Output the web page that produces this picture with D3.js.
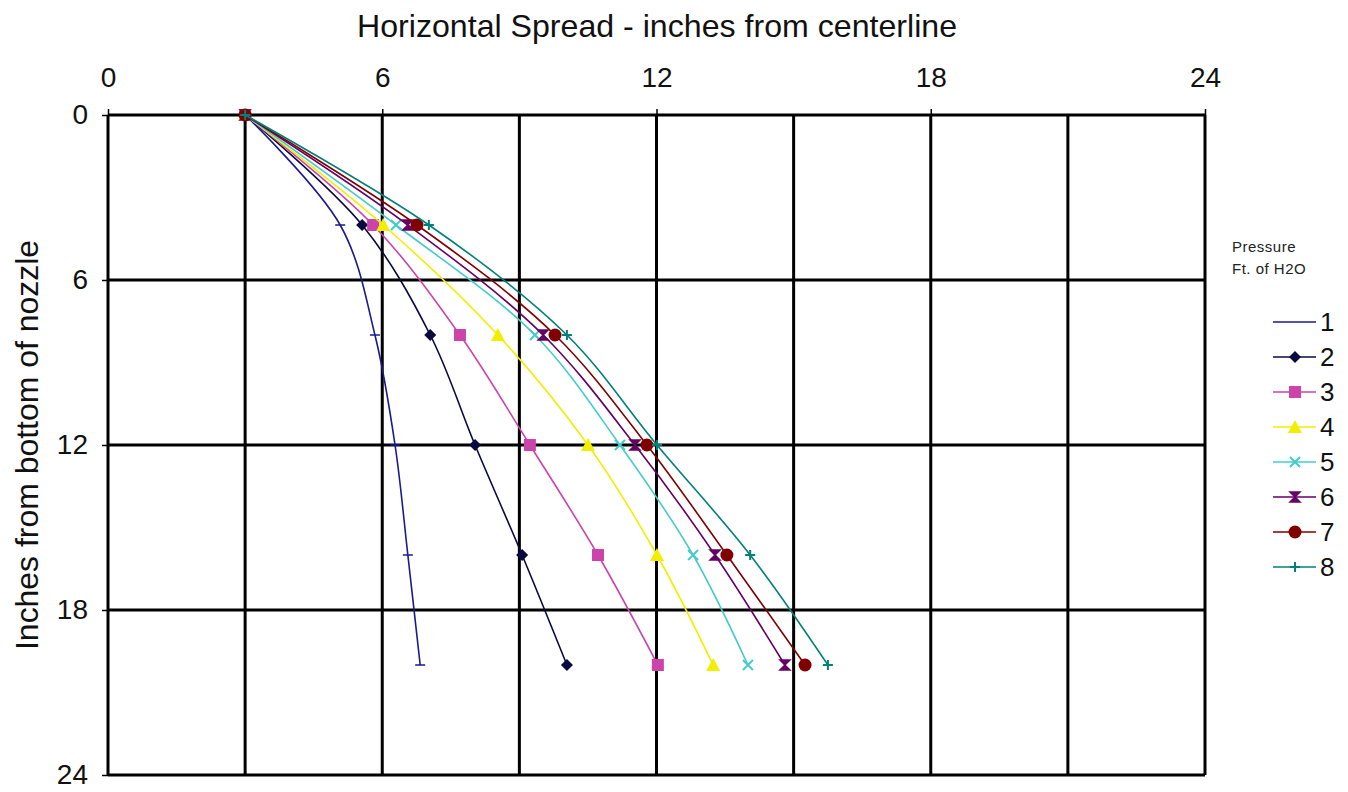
<!DOCTYPE html>
<html><head><meta charset="utf-8">
<script src="https://cdn.jsdelivr.net/npm/d3@7"></script>
<style>body{margin:0;background:#fff;}svg{display:block;font-family:"Liberation Sans",Arial,sans-serif;}
.narrow{font-family:"Liberation Sans Narrow","Arial Narrow","Liberation Sans",Arial,sans-serif;}</style>
</head><body>
<svg id="chart" width="1348" height="792"></svg>
<script>
// Data
const depths = [0, 4, 8, 12, 16, 20];           // inches from bottom of nozzle
const seriesNames = ["1","2","3","4","5","6","7","8"];
const s1 = [3, 5.08, 5.84, 6.28, 6.56, 6.83];
const s2 = [3, 5.56, 7.05, 8.03, 9.06, 10.04];
const s3 = [3, 5.80, 7.70, 9.23, 10.72, 12.03];
const s4 = [3, 6.02, 8.53, 10.50, 12.01, 13.24];
const s5 = [3, 6.30, 9.34, 11.20, 12.80, 14.00];
const s6 = [3, 6.56, 9.52, 11.53, 13.28, 14.81];
const s7 = [3, 6.76, 9.78, 11.79, 13.54, 15.25];
const s8 = [3, 7.02, 10.04, 12.01, 14.05, 15.75];
const spreads = [s1, s2, s3, s4, s5, s6, s7, s8];
const xTicks = [0, 6, 12, 18, 24];
const yTicks = [0, 6, 12, 18, 24];
const xGrid = [3, 6, 9, 12, 15, 18, 21, 24];
const colors = ["#1a1a8c","#0a0a40","#cc44aa","#f2ee00","#44cccc","#660066","#800000","#00807a"];
const markers = ["dash","diamond","square","triangle","x","hourglass","circle","plus"];

const svg = d3.select("#chart");
const x = d3.scaleLinear().domain([0, 24]).range([108, 1205]);
const y = d3.scaleLinear().domain([0, 24]).range([115, 775]);

// grid
svg.append("g").selectAll("line").data(xGrid).join("line")
  .attr("x1", d => x(d)).attr("x2", d => x(d)).attr("y1", y(0)).attr("y2", y(24))
  .attr("stroke", "#000").attr("stroke-width", 3);
svg.append("g").selectAll("line").data(yTicks).join("line")
  .attr("x1", x(0)).attr("x2", x(24)).attr("y1", d => y(d)).attr("y2", d => y(d))
  .attr("stroke", "#000").attr("stroke-width", 3);
svg.append("line").attr("x1", x(0)).attr("x2", x(0)).attr("y1", y(0)).attr("y2", y(24))
  .attr("stroke", "#000").attr("stroke-width", 3);

// axes
const xAxis = d3.axisTop(x).tickValues(xTicks).tickSize(6).tickPadding(22);
const gx = svg.append("g").attr("transform", `translate(0,${y(0)})`).call(xAxis);
gx.select(".domain").remove();
gx.selectAll("line").attr("stroke", "#000").attr("stroke-width", 1.5);
gx.selectAll("text").attr("class", "narrow").attr("font-size", 28).attr("fill", "#111");

const yAxis = d3.axisLeft(y).tickValues(yTicks).tickSize(6).tickPadding(14);
const gy = svg.append("g").attr("transform", `translate(${x(0)},0)`).call(yAxis);
gy.select(".domain").remove();
gy.selectAll("line").attr("stroke", "#000").attr("stroke-width", 1.5);
gy.selectAll("text").attr("class", "narrow").attr("font-size", 28).attr("fill", "#111");

// titles
svg.append("text").attr("class", "narrow").attr("x", 657).attr("y", 37).attr("text-anchor", "middle")
  .attr("font-size", 32).attr("fill", "#111")
  .attr("textLength", 600).attr("lengthAdjust", "spacingAndGlyphs")
  .text("Horizontal Spread - inches from centerline");
svg.append("text").attr("class", "narrow").attr("transform", "translate(38,445) rotate(-90)").attr("text-anchor", "middle")
  .attr("font-size", 32).attr("fill", "#111")
  .attr("textLength", 410).attr("lengthAdjust", "spacingAndGlyphs")
  .text("Inches from bottom of nozzle");

// marker drawing
function drawMarker(g, type, color, cx, cy) {
  const s = 5;
  if (type === "dash") {
    g.append("line").attr("x1", cx - s).attr("x2", cx + s).attr("y1", cy).attr("y2", cy)
      .attr("stroke", color).attr("stroke-width", 1.5);
  } else if (type === "diamond") {
    g.append("path").attr("d", `M${cx},${cy-6}L${cx+6},${cy}L${cx},${cy+6}L${cx-6},${cy}Z`).attr("fill", color);
  } else if (type === "square") {
    g.append("rect").attr("x", cx - 6).attr("y", cy - 6).attr("width", 12).attr("height", 12).attr("fill", color);
  } else if (type === "triangle") {
    g.append("path").attr("d", `M${cx},${cy-7}L${cx+7},${cy+6}L${cx-7},${cy+6}Z`).attr("fill", color);
  } else if (type === "x") {
    g.append("path").attr("d", `M${cx-5},${cy-5}L${cx+5},${cy+5}M${cx-5},${cy+5}L${cx+5},${cy-5}`)
      .attr("stroke", color).attr("stroke-width", 2);
  } else if (type === "hourglass") {
    g.append("path").attr("d", `M${cx-5},${cy-5}L${cx+5},${cy-5}L${cx},${cy}Z M${cx-5},${cy+5}L${cx+5},${cy+5}L${cx},${cy}Z`)
      .attr("fill", color).attr("stroke", color).attr("stroke-width", 1.5);
  } else if (type === "circle") {
    g.append("circle").attr("cx", cx).attr("cy", cy).attr("r", 6.5).attr("fill", color);
  } else if (type === "plus") {
    g.append("path").attr("d", `M${cx-5},${cy}L${cx+5},${cy}M${cx},${cy-5}L${cx},${cy+5}`)
      .attr("stroke", color).attr("stroke-width", 2);
  }
}

// series
const line = d3.line().x(d => x(d[0])).y(d => y(d[1])).curve(d3.curveCatmullRom.alpha(0.5));
spreads.forEach((vals, i) => {
  const pts = vals.map((v, j) => [v, depths[j]]);
  const g = svg.append("g");
  g.append("path").attr("d", line(pts)).attr("fill", "none")
    .attr("stroke", colors[i]).attr("stroke-width", 1.6);
  pts.forEach(p => drawMarker(g, markers[i], colors[i], x(p[0]), y(p[1])));
});

// legend
svg.append("text").attr("x", 1232).attr("y", 252).attr("font-size", 15).attr("fill", "#222")
  .attr("letter-spacing", 0.5).text("Pressure");
svg.append("text").attr("x", 1232).attr("y", 274).attr("font-size", 15).attr("fill", "#222")
  .attr("letter-spacing", 0.5).text("Ft. of H2O");
const lg = svg.append("g");
seriesNames.forEach((name, i) => {
  const ly = 322 + i * 35;
  lg.append("line").attr("x1", 1273).attr("x2", 1316).attr("y1", ly).attr("y2", ly)
    .attr("stroke", colors[i]).attr("stroke-width", 1.6);
  if (i > 0) drawMarker(lg, markers[i], colors[i], 1295, ly);
  lg.append("text").attr("class", "narrow").attr("x", 1320).attr("y", ly + 9).attr("font-size", 26).attr("fill", "#111").text(name);
});
</script>
</body></html>
